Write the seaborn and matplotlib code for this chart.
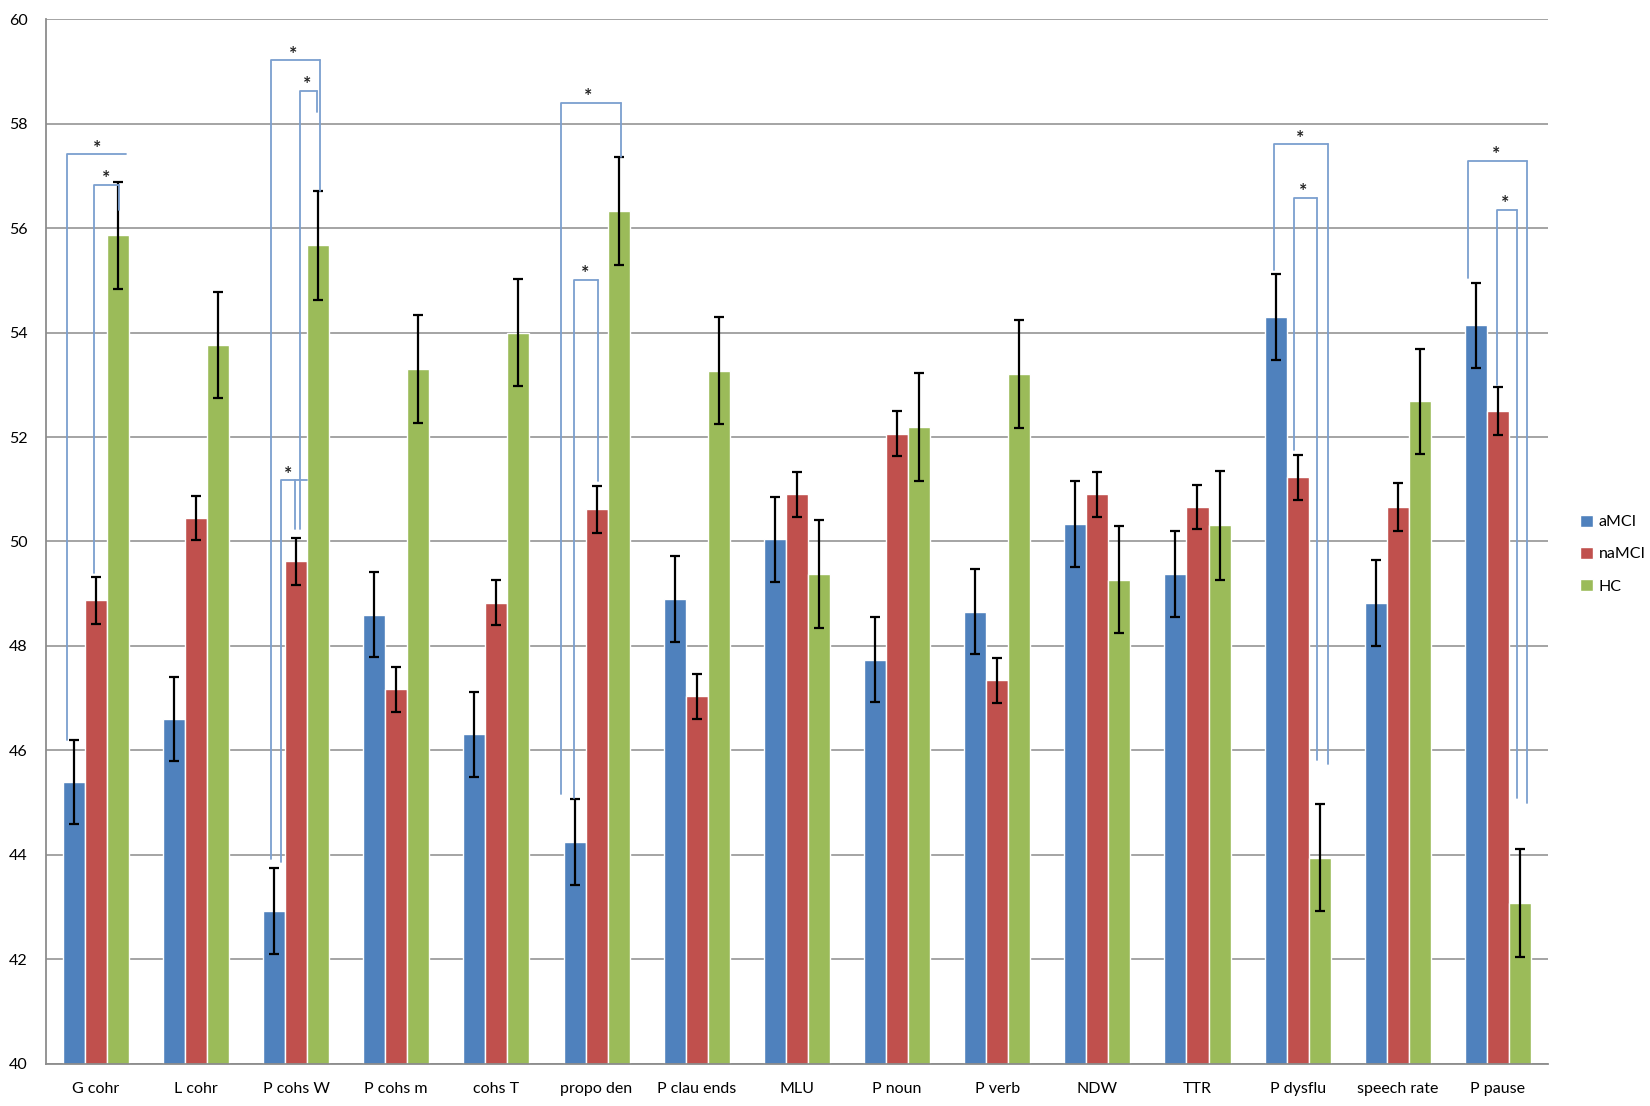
#!/usr/bin/env python3
"""
Discourse measures by group (aMCI / naMCI / HC), T-scores with error bars
"""

import numpy as np
import pandas as pd
import matplotlib
matplotlib.use("Agg")
import matplotlib.pyplot as plt
import seaborn as sns

# data
measures = ["G cohr", "L cohr", "P cohs W", "P cohs m", "cohs T", "propo den",
            "P clau ends", "MLU", "P noun", "P verb", "NDW", "TTR", "P dysflu",
            "speech rate", "P pause"]
groups = ["aMCI", "naMCI", "HC"]

amci = [45.40, 46.60, 42.93, 48.60, 46.31, 44.25, 48.90, 50.04, 47.74, 48.66,
        50.33, 49.38, 54.30, 48.82, 54.14]
namci = [48.88, 50.45, 49.62, 47.17, 48.83, 50.62, 47.04, 50.90, 52.06, 47.34,
         50.90, 50.66, 51.23, 50.66, 52.49]
hc = [55.86, 53.76, 55.67, 53.30, 54.00, 56.32, 53.27, 49.38, 52.19, 53.21,
      49.27, 50.31, 43.95, 52.68, 43.08]

amci_err = [0.81, 0.81, 0.82, 0.81, 0.81, 0.82, 0.82, 0.82, 0.82, 0.82,
            0.82, 0.82, 0.82, 0.82, 0.81]
namci_err = [0.45, 0.43, 0.45, 0.43, 0.43, 0.45, 0.43, 0.43, 0.43, 0.43,
             0.43, 0.43, 0.43, 0.46, 0.46]
hc_err = [1.02, 1.02, 1.04, 1.03, 1.03, 1.03, 1.02, 1.03, 1.03, 1.03,
          1.03, 1.04, 1.02, 1.01, 1.03]

colors = ["#4F81BD", "#C0504D", "#9BBB59"]

# significance brackets (annotation geometry, offsets relative to category centre)
brackets = [
    dict(cat="G cohr", x0=-0.29, x1=0.30, top=57.41, lb=46.20, rb=None, sx=0.015),
    dict(cat="G cohr", x0=-0.015, x1=0.23, top=56.82, lb=49.39, rb=56.34, sx=0.10),
    dict(cat="P cohs W", x0=-0.25, x1=0.24, top=59.21, lb=43.93, rb=56.70, sx=-0.03),
    dict(cat="P cohs W", x0=0.037, x1=0.21, top=58.62, lb=50.23, rb=58.22, sx=0.115),
    dict(cat="P cohs W", x0=-0.15, x1=0.11, top=51.17, lb=43.86, rb=50.23, rx=-0.007, sx=-0.08),
    dict(cat="propo den", x0=-0.36, x1=0.24, top=58.40, lb=45.16, rb=57.35, sx=-0.08),
    dict(cat="propo den", x0=-0.225, x1=0.013, top=55.00, lb=45.09, rb=51.15, sx=-0.11),
    dict(cat="P dysflu", x0=-0.233, x1=0.30, top=57.60, lb=55.20, rb=45.75, sx=0.026),
    dict(cat="P dysflu", x0=-0.04, x1=0.194, top=56.57, lb=51.76, rb=45.81, sx=0.054),
    dict(cat="P pause", x0=-0.30, x1=0.29, top=57.28, lb=55.04, rb=45.00, sx=-0.02),
    dict(cat="P pause", x0=-0.01, x1=0.19, top=56.35, lb=53.00, rb=45.09, sx=0.07),
]

df = pd.DataFrame({
    "measure": measures * 3,
    "group": np.repeat(groups, len(measures)),
    "score": amci + namci + hc,
})

sns.set_style("white")
plt.rcParams["font.family"] = ["Lato", "DejaVu Sans"]
plt.rcParams["text.color"] = "black"

fig = plt.figure(figsize=(16.5, 11.06), dpi=100)
ax = fig.add_axes([0.0277, 0.038, 0.9105, 0.9448])

sns.barplot(data=df, x="measure", y="score", hue="group", hue_order=groups,
            palette=colors, width=0.66, errorbar=None, saturation=1,
            ax=ax, zorder=2)

# error bars on top of each bar
for cont, errs in zip(ax.containers, [amci_err, namci_err, hc_err]):
    xs = [p.get_x() + p.get_width() / 2 for p in cont]
    ys = [p.get_height() for p in cont]
    ax.errorbar(xs, ys, yerr=errs, fmt="none", ecolor="black", elinewidth=1.6,
                capsize=3.5, capthick=1.6, zorder=3)

# brackets + asterisks
bcol = "#7B9FCF"
for b in brackets:
    c = measures.index(b["cat"])
    x0, x1 = c + b["x0"], c + b["x1"]
    ax.plot([x0, x0, x1], [b["lb"], b["top"], b["top"]], color=bcol, lw=1.3, zorder=4)
    if b["rb"] is not None:
        rx = c + b.get("rx", b["x1"])
        ax.plot([rx, rx], [b["top"], b["rb"]], color=bcol, lw=1.3, zorder=4)
    ax.text(c + b["sx"], b["top"] + 0.12, "*", ha="center", va="center",
            fontsize=14, fontweight="bold", color="#222222", zorder=5)

# axes styling (Excel look)
gray = "#8C8C8C"
ax.set_ylim(40, 60)
ax.set_xlim(-0.5, len(measures) - 0.5)
ax.set_yticks(range(40, 61, 2))
ax.yaxis.grid(True, color=gray, lw=1.1)
ax.xaxis.grid(False)
ax.set_axisbelow(True)
for s in ["top", "right"]:
    ax.spines[s].set_visible(False)
for s in ["left", "bottom"]:
    ax.spines[s].set_color(gray)
    ax.spines[s].set_linewidth(1.3)

ax.set_xticks(np.arange(-0.5, len(measures), 1), minor=True)
ax.tick_params(axis="x", which="major", length=0, pad=13, labelsize=11.5,
               labelcolor="black")
ax.tick_params(axis="x", which="minor", length=6, color=gray, width=1.2)
ax.tick_params(axis="y", length=5, color=gray, width=1.2, pad=8, labelsize=11.5,
               labelcolor="black")
ax.set_xlabel("")
ax.set_ylabel("")

handles, labels = ax.get_legend_handles_labels()
ax.legend(handles, labels, loc="center left", bbox_to_anchor=(0.949, 0.499),
          bbox_transform=fig.transFigure, frameon=False, fontsize=11.5,
          handlelength=0.8, handleheight=0.8, handletextpad=0.35,
          labelspacing=1.1)

fig.savefig("out.png", dpi=100)
